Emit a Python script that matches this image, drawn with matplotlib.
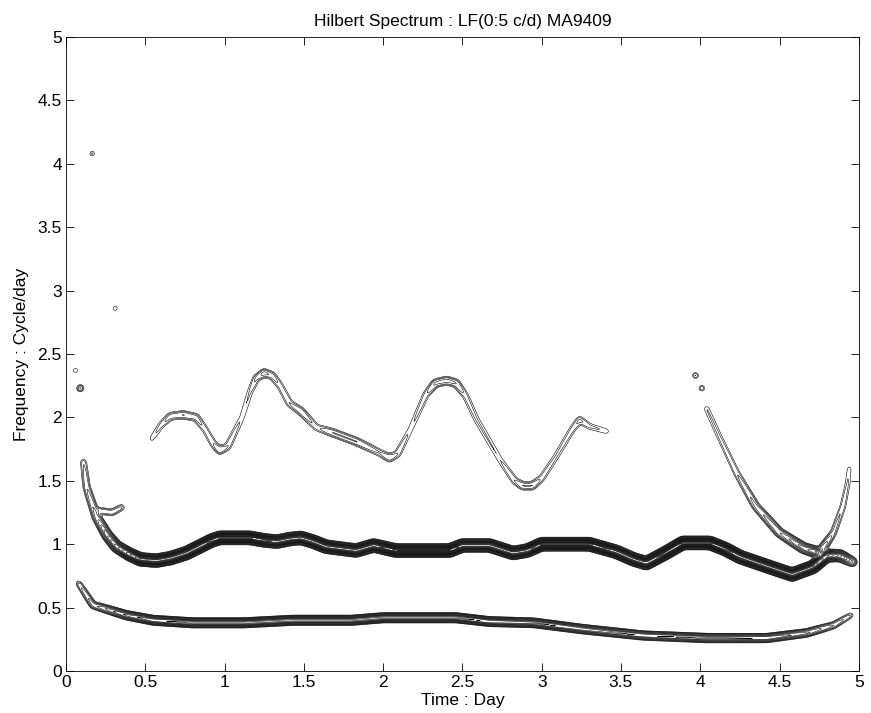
import numpy as np
import matplotlib
matplotlib.use("Agg")
import matplotlib.pyplot as plt

plt.rcParams['font.family'] = ['Liberation Sans', 'DejaVu Sans']

# ridge centre lines: time (day), frequency (c/d), strength
low_t = [0.08, 0.17, 0.38, 0.55, 0.80, 1.12, 1.43, 1.80, 2.00, 2.46, 2.67, 2.95, 3.26, 3.64, 4.04, 4.42, 4.67, 4.84, 4.95]
low_f = [0.69, 0.52, 0.44, 0.40, 0.38, 0.38, 0.40, 0.40, 0.42, 0.42, 0.39, 0.38, 0.33, 0.28, 0.26, 0.26, 0.30, 0.36, 0.44]
low_a = [0.3, 0.6, 1.5, 2.0, 2.2, 2.2, 2.2, 2.2, 2.2, 2.2, 2.0, 1.8, 1.6, 1.4, 1.5, 1.4, 1.0, 0.5, 0.25]

mid_t = [0.11, 0.13, 0.19, 0.26, 0.32, 0.40, 0.47, 0.57, 0.66, 0.76, 0.84, 0.92, 0.97, 1.16, 1.25, 1.33, 1.41, 1.48,
         1.56, 1.64, 1.83, 1.94, 2.08, 2.42, 2.50, 2.67, 2.82, 2.91, 3.00, 3.30, 3.47, 3.58, 3.66, 3.78, 3.89, 4.06,
         4.16, 4.25, 4.46, 4.58, 4.71, 4.80, 4.88, 4.96]
mid_f = [1.65, 1.45, 1.22, 1.07, 0.98, 0.92, 0.88, 0.87, 0.89, 0.93, 0.98, 1.03, 1.05, 1.05, 1.03, 1.02, 1.04, 1.05,
         1.02, 0.98, 0.95, 0.99, 0.95, 0.95, 0.99, 0.99, 0.93, 0.95, 1.00, 1.00, 0.94, 0.88, 0.85, 0.93, 1.01, 1.01,
         0.96, 0.90, 0.81, 0.76, 0.82, 0.91, 0.91, 0.86]
mid_a = [0.2, 0.3, 0.5, 1.2, 2.0, 3.2, 4.0, 4.0, 4.0, 4.0, 4.0, 4.2, 4.4, 4.4, 4.2, 4.0, 4.0, 4.0,
         4.0, 4.0, 4.0, 4.0, 4.4, 4.4, 4.0, 4.0, 4.0, 4.0, 4.4, 4.4, 4.0, 4.0, 4.0, 4.2, 4.4, 4.4,
         4.2, 4.0, 4.0, 4.0, 4.0, 3.0, 2.0, 0.7]

hook_t = [0.18, 0.23, 0.29, 0.35]
hook_f = [1.27, 1.26, 1.25, 1.29]
hook_a = [0.3, 0.3, 0.3, 0.25]

wave_t = [0.54, 0.60, 0.66, 0.74, 0.82, 0.88, 0.93, 0.97, 1.02, 1.11, 1.16, 1.20, 1.25, 1.30, 1.35, 1.41, 1.48, 1.58,
          1.68, 1.83, 1.98, 2.04, 2.09, 2.17, 2.27, 2.33, 2.40, 2.46, 2.52, 2.59, 2.74, 2.83, 2.88, 2.94, 3.00, 3.09,
          3.19, 3.24, 3.30, 3.41]
wave_f = [1.83, 1.94, 2.01, 2.02, 2.00, 1.90, 1.79, 1.74, 1.77, 2.00, 2.20, 2.31, 2.35, 2.33, 2.25, 2.11, 2.05, 1.92,
          1.88, 1.81, 1.72, 1.68, 1.71, 1.90, 2.18, 2.27, 2.29, 2.27, 2.17, 1.98, 1.66, 1.50, 1.46, 1.46, 1.52, 1.69,
          1.90, 1.98, 1.93, 1.89]
wave_a = [0.12, 0.17, 0.25, 0.3, 0.25, 0.17, 0.2, 0.3, 0.2, 0.13, 0.15, 0.22, 0.35, 0.25, 0.18, 0.2, 0.28, 0.17,
          0.3, 0.3, 0.2, 0.3, 0.2, 0.13, 0.18, 0.32, 0.35, 0.3, 0.17, 0.15, 0.14, 0.2, 0.3, 0.3, 0.18, 0.15,
          0.17, 0.22, 0.16, 0.13]

fall_t = [4.04, 4.12, 4.23, 4.35, 4.50, 4.65, 4.75]
fall_f = [2.07, 1.85, 1.56, 1.30, 1.09, 0.97, 0.93]
fall_a = [0.15, 0.16, 0.2, 0.35, 0.6, 1.1, 1.6]

rise_t = [4.75, 4.84, 4.90, 4.93, 4.94]
rise_f = [0.93, 1.09, 1.30, 1.48, 1.60]
rise_a = [0.7, 0.25, 0.2, 0.16, 0.13]

spot_t = [0.165, 0.31, 0.06, 0.09, 3.97, 4.01]
spot_f = [4.08, 2.86, 2.37, 2.23, 2.33, 2.23]
spot_a = [0.22, 0.2, 0.2, 0.45, 0.3, 0.28]

ridges = [
    (low_t, low_f, low_a, 2.1),
    (mid_t, mid_f, mid_a, 2.9),
    (hook_t, hook_f, hook_a, 2.6),
    (wave_t, wave_f, wave_a, 3.4),
    (fall_t, fall_f, fall_a, 3.0),
    (rise_t, rise_f, rise_a, 2.8),
]

# pixels per unit in the target, so ridge widths are in screen units
sx, sy = 158.6, 126.8
tg = np.linspace(0, 5, 800)
fg = np.linspace(0, 5, 640)
T, F = np.meshgrid(tg, fg)
Z = np.zeros_like(T)

for rt, rf, ra, w in ridges:
    for i in range(len(rt) - 1):
        x0, y0, x1, y1 = rt[i] * sx, rf[i] * sy, rt[i + 1] * sx, rf[i + 1] * sy
        dx, dy = x1 - x0, y1 - y0
        u = ((T * sx - x0) * dx + (F * sy - y0) * dy) / (dx * dx + dy * dy)
        u = np.clip(u, 0, 1)
        d2 = (T * sx - x0 - u * dx) ** 2 + (F * sy - y0 - u * dy) ** 2
        amp = ra[i] + u * (ra[i + 1] - ra[i])
        Z = np.maximum(Z, amp * np.exp(-d2 / w ** 2))

for st, sf, sa in zip(spot_t, spot_f, spot_a):
    d2 = (T * sx - st * sx) ** 2 + (F * sy - sf * sy) ** 2
    Z = np.maximum(Z, sa * np.exp(-d2 / 2.5 ** 2))

# soften the corners a little (gaussian blur, ~1.5 px)
k = np.exp(-0.5 * (np.arange(-6, 7) / 1.5) ** 2)
k /= k.sum()
Z = np.apply_along_axis(lambda r: np.convolve(r, k, mode='same'), 1, Z)
Z = np.apply_along_axis(lambda c: np.convolve(c, k, mode='same'), 0, Z)

levels = [0.08, 0.12, 0.17, 0.25, 0.35, 0.5, 0.65, 0.8, 1.0, 1.2, 1.45, 1.7, 2.0, 2.3, 2.6, 2.9, 3.1, 3.3, 3.5]

fig = plt.figure(figsize=(8.71, 7.13), dpi=100)
ax = fig.add_axes([0.0758, 0.0589, 0.9102, 0.8893])
ax.contour(T, F, Z, levels=levels, colors='k', linewidths=0.4)

ax.set_xlim(0, 5)
ax.set_ylim(0, 5)
ticks = np.arange(0, 5.01, 0.5)
ax.set_xticks(ticks)
ax.set_yticks(ticks)
ax.set_xticklabels([f"{v:g}" for v in ticks])
ax.set_yticklabels([f"{v:g}" for v in ticks])
ax.tick_params(direction='in', top=True, right=True, labelsize=12.5, length=6, width=0.6, pad=3)
for s in ax.spines.values():
    s.set_linewidth(0.6)

ax.set_title("Hilbert Spectrum : LF(0:5 c/d) MA9409", fontsize=12.5, pad=8)
ax.set_xlabel("Time : Day", fontsize=12.5, labelpad=2)
ax.set_ylabel("Frequency : Cycle/day", fontsize=12.5, labelpad=6)

fig.savefig("out.png", dpi=100)
